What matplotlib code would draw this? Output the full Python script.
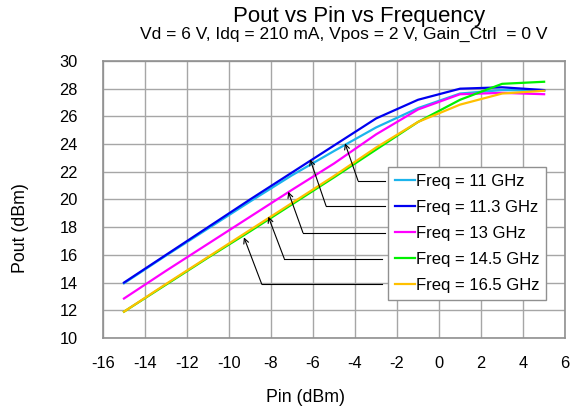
import numpy as np
import matplotlib
matplotlib.use("Agg")
import matplotlib.pyplot as plt

plt.rcParams["font.family"] = ["Liberation Sans", "DejaVu Sans"]
plt.rcParams["axes.unicode_minus"] = False

# Pin sweep (dBm)
pin = [-15, -13, -11, -9, -7, -5, -3, -1, 1, 3, 5]

# Pout (dBm) per frequency
pout_11 = [13.95, 15.95, 17.9, 19.85, 21.75, 23.5, 25.2, 26.6, 27.65, 27.9, 27.85]
pout_11p3 = [14.0, 16.0, 18.0, 20.0, 21.95, 23.9, 25.85, 27.2, 28.0, 28.1, 27.9]
pout_13 = [12.85, 14.85, 16.8, 18.75, 20.7, 22.6, 24.7, 26.5, 27.6, 27.7, 27.6]
pout_14p5 = [11.9, 13.85, 15.8, 17.7, 19.65, 21.6, 23.6, 25.6, 27.2, 28.35, 28.5]
pout_16p5 = [11.9, 13.9, 15.85, 17.8, 19.75, 21.7, 23.75, 25.6, 26.85, 27.65, 27.85]

labels = ["Freq = 11 GHz", "Freq = 11.3 GHz", "Freq = 13 GHz",
          "Freq = 14.5 GHz", "Freq = 16.5 GHz"]
series = [pout_11, pout_11p3, pout_13, pout_14p5, pout_16p5]
colors = ["#1cb4ec", "#0000f0", "#ff00ff", "#00f000", "#ffc000"]

# callout arrows: (text-side y, line start x, knee x, tip x, tip y)
callouts = [
    (21.36, -2.57, -3.86, -4.48, 24.06),
    (19.53, -2.57, -5.38, -6.14, 22.90),
    (17.60, -2.57, -6.48, -7.18, 20.56),
    (15.73, -2.73, -7.37, -8.13, 18.76),
    (13.88, -2.73, -8.44, -9.29, 17.27),
]

fig = plt.figure(figsize=(5.72, 4.12), dpi=100)
ax = fig.add_axes([0.180, 0.1796, 0.808, 0.6724])

for vals, lab, col in zip(series, labels, colors):
    ax.plot(pin, vals, color=col, lw=1.6, label=lab, solid_joinstyle="miter")

for yl, xs, xk, xt, yt in callouts:
    ax.plot([xs, xk], [yl, yl], color="black", lw=0.8, zorder=4)
    ax.annotate("", xy=(xt, yt), xytext=(xk, yl),
                arrowprops=dict(arrowstyle="->", color="black", lw=0.8,
                                shrinkA=0, shrinkB=0, mutation_scale=9),
                zorder=4)

ax.set_xlim(-16, 6)
ax.set_ylim(10, 30)
ax.set_xticks(np.arange(-16, 7, 2))
ax.set_yticks(np.arange(10, 31, 2))
ax.grid(True, color="#a6a6a6", lw=1.0)
ax.set_axisbelow(True)
for sp in ax.spines.values():
    sp.set_color("#909090")
    sp.set_linewidth(1.2)
ax.tick_params(length=0, labelsize=11.8, pad=13)
ax.tick_params(axis="y", pad=18)

leg = ax.legend(loc="upper left", bbox_to_anchor=(0.617, 0.617),
                fontsize=12, frameon=True, fancybox=False,
                edgecolor="#909090", framealpha=1.0, borderpad=0.42,
                labelspacing=0.66, handlelength=1.2, handletextpad=0.05,
                borderaxespad=0)
leg.get_frame().set_linewidth(1.0)
leg.set_zorder(3)

fig.text(359 / 572, 1 - 22 / 412, "Pout vs Pin vs Frequency",
         ha="center", va="baseline", fontsize=16)
fig.text(344 / 572, 1 - 39 / 412,
         "Vd = 6 V, Idq = 210 mA, Vpos = 2 V, Gain_Ctrl  = 0 V",
         ha="center", va="baseline", fontsize=12.5)
fig.text(306 / 572, 1 - 397 / 412, "Pin (dBm)", ha="center", va="center",
         fontsize=12.8)
fig.text(21 / 572, 1 - 228 / 412, "Pout (dBm)", ha="center", va="center",
         rotation=90, fontsize=12.8)

fig.savefig("out.png", dpi=100)
